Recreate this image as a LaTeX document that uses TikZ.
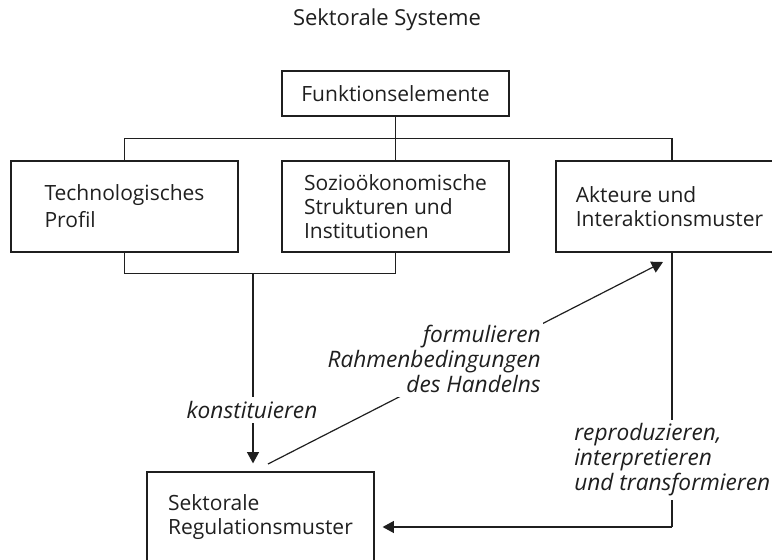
\documentclass[tikz,border=0pt]{standalone}
\usepackage{fontspec}
\setmainfont{Open Sans}
\usetikzlibrary{arrows.meta,calc}
\newcommand\boxfnt{\fontsize{15.75pt}{18pt}\selectfont}
\newcommand\lblfnt{\fontsize{17pt}{18.75pt}\selectfont\itshape}
\newcommand\titlefnt{\fontsize{16.5pt}{18pt}\selectfont}
\begin{document}
\begin{tikzpicture}[x=0.75pt,y=-0.75pt,
  line width=0.9pt, color=black!88,
  box/.style={draw, rectangle, minimum width=170.25pt, minimum height=68.25pt,
    align=left, font=\boxfnt, inner sep=0pt},
  lbl/.style={font=\lblfnt, fill=white, inner xsep=2pt, inner ysep=3pt},
  arr/.style={-{Triangle[length=8.5pt,width=9pt]}}]
\useasboundingbox (0,0) rectangle (772,560);

\node[font=\titlefnt, anchor=base] (title) at (387,26) {Sektorale Systeme};

\node[box, minimum height=33.75pt] (funk) at (395.5,93.5) {Funktionselemente};
\node[box] (tech) at (124.5,206.5) {Technologisches\\[2.25pt]Profil};
\node[box] (sozio) at (395.5,206.5) {Sozioökonomische\\Strukturen und\\Institutionen};
\node[box] (akt) at (669.5,206.5) {Akteure und\\Interaktionsmuster};
\node[box] (sekt) at (260.5,517.5) {Sektorale\\Regulationsmuster};

% top connectors
\coordinate (rc) at (672,527);
\draw (funk.south) -- (sozio.north);
\draw (tech.north) -- ++(0,-22) -| (akt.north -| rc);

% bottom connectors
\coordinate (j) at (253,273);
\draw (tech.south) -- ++(0,21) -| (sozio.south);
\draw[arr, shorten >=6pt] (j) -- (j |- sekt.north);
\node[lbl] (konst) at (252,410) {konstituieren};

% diagonal
\coordinate (d1) at (268,464);
\coordinate (d2) at (663,262);
\draw[arr] (d1) -- (d2);
\node[lbl, align=right, anchor=north east] (form) at (544,321)
  {formulieren\\Rahmenbedingungen\\des Handelns};

% right connector
\draw (akt.south -| rc) -- (rc);
\draw[arr, shorten >=6pt] (rc) -- (sekt.east |- rc);
\node[lbl, align=left, anchor=north west] (repro) at (571,419)
  {reproduzieren,\\interpretieren\\und transformieren};
\end{tikzpicture}
\end{document}
